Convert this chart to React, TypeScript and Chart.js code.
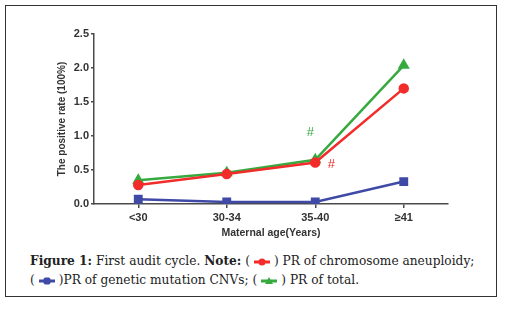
import React, { useEffect, useRef } from "react";
import { Chart, registerables } from "chart.js";

Chart.register(...registerables);

const categories = ["<30", "30-34", "35-40", "≥41"];
const aneuploidy = [0.28, 0.44, 0.61, 1.7];
const cnvs = [0.07, 0.03, 0.03, 0.33];
const total = [0.35, 0.46, 0.65, 2.04];
const yTicks = [0, 0.5, 1.0, 1.5, 2.0, 2.5];
const yTitle = "The positive rate (100%)";
const xTitle = "Maternal age(Years)";
const markIndex = 2;

const RED = "#f22b2b";
const BLUE = "#3f4aa6";
const GREEN = "#36a93f";
const AXIS = "#4a4a4a";

const hashPlugin = {
  id: "hashes",
  afterDatasetsDraw(chart: any) {
    const ctx = chart.ctx;
    const g = chart.getDatasetMeta(2).data[markIndex];
    const r = chart.getDatasetMeta(0).data[markIndex];
    ctx.save();
    ctx.font = "13px 'Liberation Sans', Arial, sans-serif";
    ctx.textAlign = "center";
    ctx.textBaseline = "middle";
    ctx.fillStyle = GREEN;
    ctx.fillText("#", g.x - 5, g.y - 27);
    ctx.fillStyle = RED;
    ctx.fillText("#", r.x + 16, r.y + 2);
    ctx.restore();
  },
};

function Icon({ color, shape }: { color: string; shape: string }) {
  return (
    <svg width="20" height="10" style={{ verticalAlign: "middle", margin: "0 2px" }}>
      <line x1="2" y1="5" x2="18" y2="5" stroke={color} strokeWidth="3" />
      {shape === "circle" && <circle cx="10" cy="5" r="3.5" fill={color} />}
      {shape === "rect" && <rect x="6.5" y="1.5" width="7" height="7" rx="2" fill={color} />}
      {shape === "tri" && <polygon points="10,1 14,8 6,8" fill={color} />}
    </svg>
  );
}

export default function App() {
  const ref = useRef<HTMLCanvasElement>(null);
  useEffect(() => {
    const tickFont = { family: "'Liberation Sans', Arial, sans-serif", size: 11, weight: "bold" as const };
    const chart = new Chart(ref.current!, {
      type: "line",
      data: {
        labels: categories,
        datasets: [
          { label: "PR of chromosome aneuploidy", data: aneuploidy, borderColor: RED, backgroundColor: RED, pointStyle: "circle", pointRadius: 4, borderWidth: 2.5 },
          { label: "PR of genetic mutation CNVs", data: cnvs, borderColor: BLUE, backgroundColor: BLUE, pointStyle: "rect", pointRadius: 4.5, borderWidth: 2.5 },
          { label: "PR of total", data: total, borderColor: GREEN, backgroundColor: GREEN, pointStyle: "triangle", pointRadius: 4.5, borderWidth: 2.5 },
        ],
      },
      options: {
        animation: false,
        responsive: false,
        maintainAspectRatio: false,
        layout: { padding: { top: 14, right: 12, left: 0, bottom: 6 } },
        plugins: { legend: { display: false }, tooltip: { enabled: false } },
        scales: {
          x: {
            type: "category",
            offset: true,
            grid: { offset: false, drawOnChartArea: false, drawTicks: true, tickLength: 4, color: AXIS, lineWidth: 1.5 },
            border: { color: AXIS, width: 1.5 },
            ticks: { color: "#333", font: tickFont, padding: 3 },
            title: { display: true, text: xTitle, color: "#333", font: { ...tickFont, size: 10.5 }, padding: { top: 0, bottom: 0 } },
            afterFit: (s: any) => { s.height = 35; },
          },
          y: {
            min: 0,
            max: 2.5,
            afterBuildTicks: (s: any) => { s.ticks = yTicks.map((v) => ({ value: v })); },
            grid: { drawOnChartArea: false, drawTicks: true, tickLength: 3, color: AXIS, lineWidth: 1.5 },
            border: { color: AXIS, width: 1.5 },
            ticks: { color: "#333", font: tickFont, padding: 2, callback: (v: any) => Number(v).toFixed(1) },
            title: { display: true, text: yTitle, color: "#333", font: { ...tickFont, size: 10 }, padding: { top: 6, bottom: 0 } },
            afterFit: (s: any) => { s.width = 44; },
          },
        },
      },
      plugins: [hashPlugin],
    });
    return () => chart.destroy();
  }, []);

  const cap: React.CSSProperties = {
    position: "absolute",
    left: 24,
    top: 246,
    width: 470,
    fontFamily: "'DejaVu Serif', serif",
    fontSize: 12.2,
    lineHeight: "19px",
    color: "#222",
  };

  return (
    <div style={{ position: "absolute", left: 5, top: 5, width: 490, height: 290, border: "1px solid #333", background: "#fff" }}>
      <div style={{ position: "absolute", left: 44, top: 14, width: 410, height: 225 }}>
        <canvas ref={ref} width={410} height={225} style={{ display: "block" }} />
      </div>
      <div style={cap}>
        <b>Figure 1:</b> First audit cycle. <b>Note:</b> (<Icon color={RED} shape="circle" />) PR of chromosome aneuploidy;
        <br />
        (<Icon color={BLUE} shape="rect" />)PR of genetic mutation CNVs; (<Icon color={GREEN} shape="tri" />) PR of total.
      </div>
    </div>
  );
}
